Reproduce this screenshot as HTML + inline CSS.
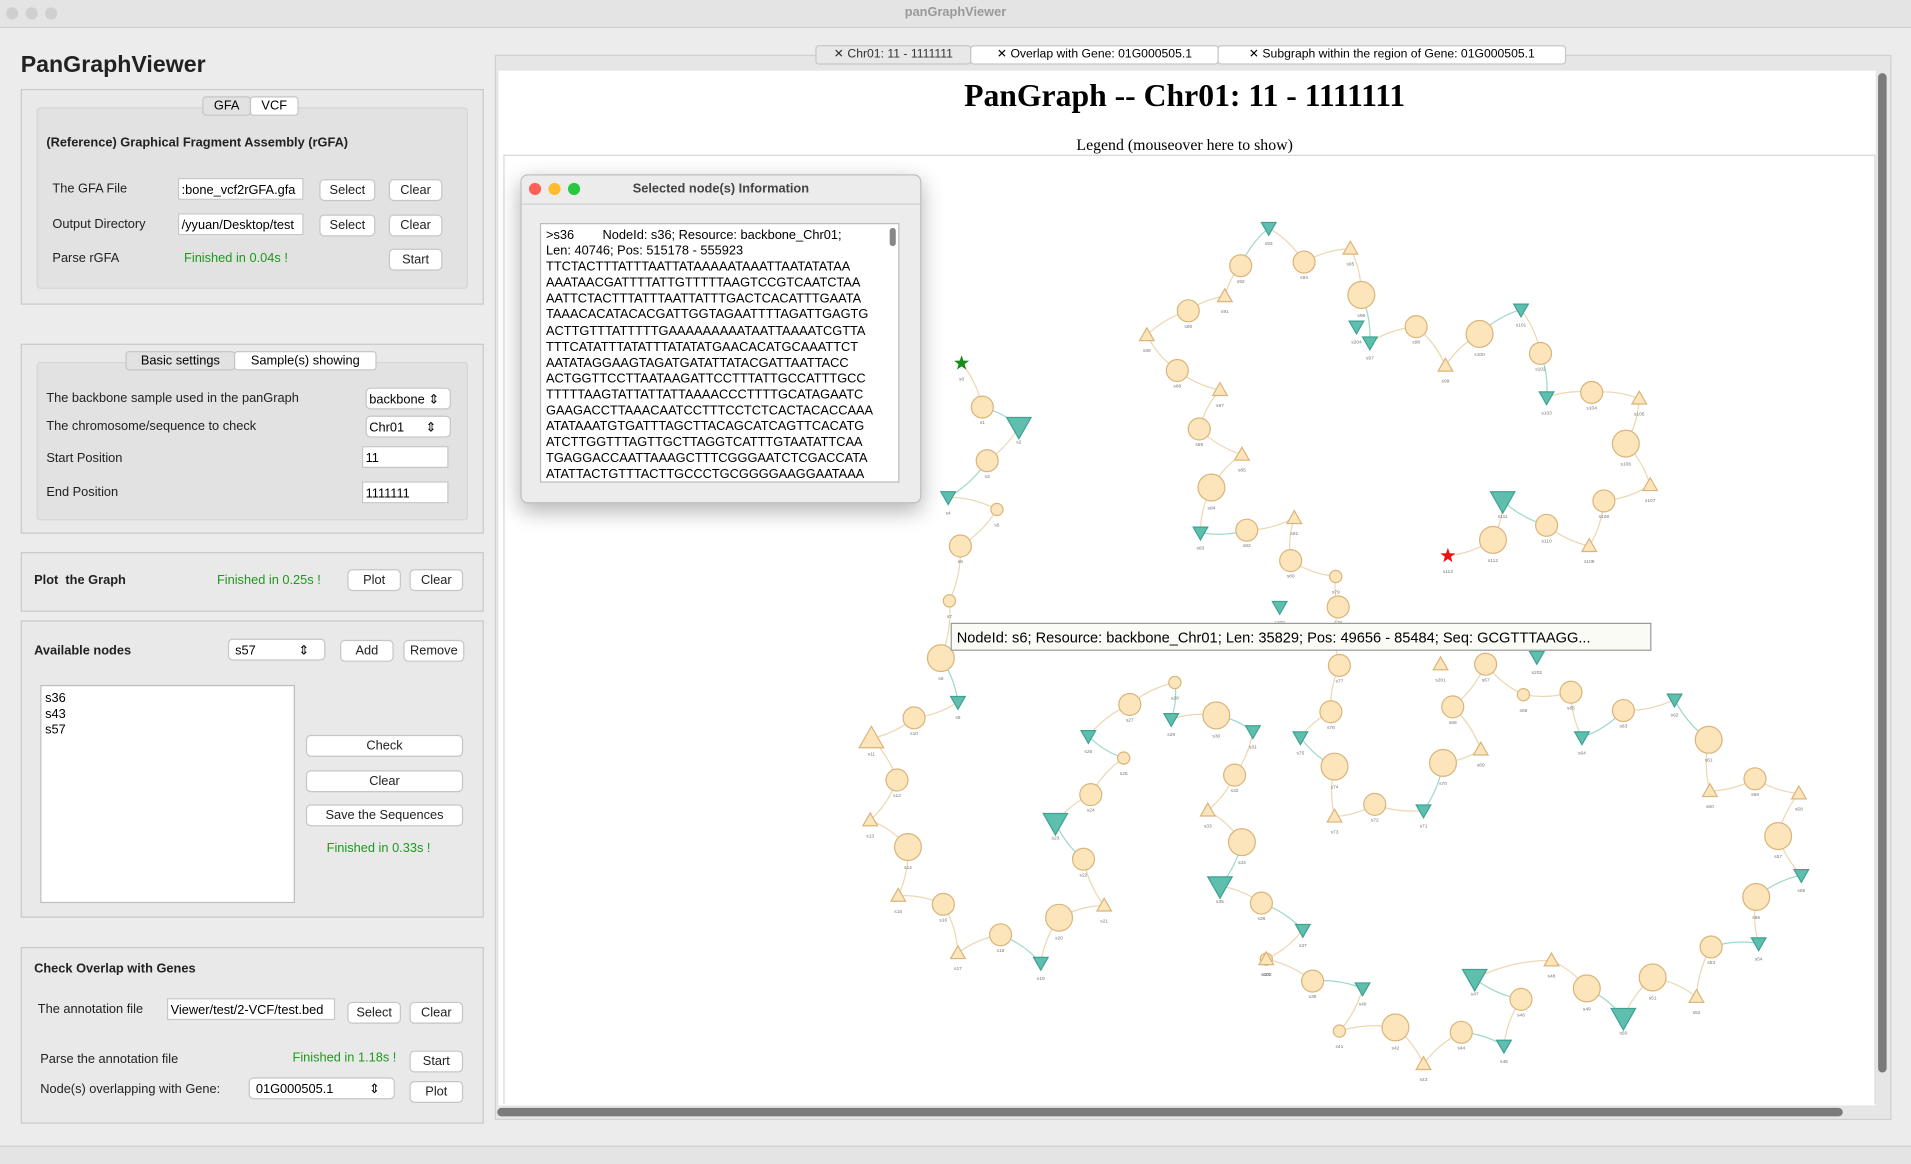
<!DOCTYPE html>
<html><head><meta charset="utf-8">
<style>
html,body{margin:0;padding:0;width:1911px;height:1163px;overflow:hidden;background:#ececec;font-family:"Liberation Sans",sans-serif;}
#wrap{position:absolute;left:0;top:0;width:1568px;height:954px;transform:scale(1.21875);transform-origin:0 0;}
.a{position:absolute;}
.grp{position:absolute;border:1px solid #c9c9c9;background:#e9e9e9;}
.inner{position:absolute;border:1px solid #d6d6d6;background:#e2e2e2;border-radius:3px;}
.lbl{position:absolute;font-size:10.5px;color:#222;white-space:nowrap;}
.btn{position:absolute;height:16px;background:#fff;border:1px solid #c6c6c6;border-radius:4px;font-size:10.5px;text-align:center;line-height:16px;color:#222;}
.inp{position:absolute;height:18px;background:#fff;border:1px solid #c6c6c6;font-size:10.5px;line-height:18px;overflow:hidden;white-space:nowrap;padding-left:2px;box-sizing:border-box;}
.green{color:#1b9a1b;}
.b{font-weight:bold;}
.tab{position:absolute;z-index:3;font-size:10.5px;height:14px;line-height:14px;text-align:center;border:1px solid #c6c6c6;border-radius:3px;}
</style></head><body>
<div id="wrap">
<div class="a" style="left:0;top:0;width:1568px;height:22px;background:#e4e4e4;border-bottom:1px solid #d0d0d0;">
  <div class="a" style="left:5px;top:6px;width:10px;height:10px;border-radius:50%;background:#cfcfcf;"></div>
  <div class="a" style="left:21px;top:6px;width:10px;height:10px;border-radius:50%;background:#cfcfcf;"></div>
  <div class="a" style="left:37px;top:6px;width:10px;height:10px;border-radius:50%;background:#cfcfcf;"></div>
  <div class="lbl" style="left:0;width:1568px;text-align:center;top:4px;color:#999;font-weight:bold;">panGraphViewer</div>
</div>
<div class="lbl b" style="left:17px;top:43px;font-size:19px;">PanGraphViewer</div>

<div class="grp" style="left:17px;top:73px;width:378px;height:175px;"></div>
<div class="inner" style="left:30px;top:88px;width:352px;height:147px;"></div>
<div class="tab" style="left:166px;top:79px;width:38px;background:#e2e2e2;">GFA</div>
<div class="tab" style="left:205px;top:79px;width:38px;background:#fff;">VCF</div>
<div class="lbl b" style="left:38px;top:111px;">(Reference) Graphical Fragment Assembly (rGFA)</div>
<div class="lbl" style="left:43px;top:149px;">The GFA File</div>
<div class="inp" style="left:146px;top:146px;width:103px;">:bone_vcf2rGFA.gfa</div>
<div class="btn" style="left:262px;top:147px;width:44px;">Select</div>
<div class="btn" style="left:319px;top:147px;width:42px;">Clear</div>
<div class="lbl" style="left:43px;top:178px;">Output Directory</div>
<div class="inp" style="left:146px;top:175px;width:103px;">/yyuan/Desktop/test</div>
<div class="btn" style="left:262px;top:176px;width:44px;">Select</div>
<div class="btn" style="left:319px;top:176px;width:42px;">Clear</div>
<div class="lbl" style="left:43px;top:206px;">Parse rGFA</div>
<div class="lbl green" style="left:151px;top:206px;">Finished in 0.04s !</div>
<div class="btn" style="left:319px;top:204px;width:42px;">Start</div>

<div class="grp" style="left:17px;top:282px;width:378px;height:154px;"></div>
<div class="inner" style="left:30px;top:297px;width:352px;height:128px;"></div>
<div class="tab" style="left:103px;top:288px;width:88px;background:#e2e2e2;">Basic settings</div>
<div class="tab" style="left:192px;top:288px;width:115px;background:#fff;">Sample(s) showing</div>
<div class="lbl" style="left:38px;top:321px;">The backbone sample used in the panGraph</div>
<div class="inp" style="left:300px;top:318px;width:70px;border-radius:4px;">backbone ⇕</div>
<div class="lbl" style="left:38px;top:344px;">The chromosome/sequence to check</div>
<div class="inp" style="left:300px;top:341px;width:70px;border-radius:4px;">Chr01 &nbsp;&nbsp;&nbsp;&nbsp;&nbsp;⇕</div>
<div class="lbl" style="left:38px;top:370px;">Start Position</div>
<div class="inp" style="left:297px;top:366px;width:71px;">11</div>
<div class="lbl" style="left:38px;top:398px;">End Position</div>
<div class="inp" style="left:297px;top:395px;width:71px;">1111111</div>

<div class="grp" style="left:17px;top:453px;width:378px;height:47px;"></div>
<div class="lbl b" style="left:28px;top:470px;">Plot &nbsp;the Graph</div>
<div class="lbl green" style="left:178px;top:470px;">Finished in 0.25s !</div>
<div class="btn" style="left:285px;top:467px;width:42px;">Plot</div>
<div class="btn" style="left:336px;top:467px;width:42px;">Clear</div>

<div class="grp" style="left:17px;top:509px;width:378px;height:242px;"></div>
<div class="lbl b" style="left:28px;top:528px;">Available nodes</div>
<div class="inp" style="left:187px;top:524px;width:80px;border-radius:4px;">&nbsp;s57 &nbsp;&nbsp;&nbsp;&nbsp;&nbsp;&nbsp;&nbsp;&nbsp;&nbsp;&nbsp;&nbsp;⇕</div>
<div class="btn" style="left:279px;top:525px;width:42px;">Add</div>
<div class="btn" style="left:331px;top:525px;width:48px;">Remove</div>
<div class="a" style="left:33px;top:562px;width:209px;height:179px;background:#fff;border:1px solid #bdbdbd;font-size:10.5px;line-height:13px;padding:4px 3px;box-sizing:border-box;">s36<br>s43<br>s57</div>
<div class="btn" style="left:251px;top:603px;width:127px;">Check</div>
<div class="btn" style="left:251px;top:632px;width:127px;">Clear</div>
<div class="btn" style="left:251px;top:660px;width:127px;">Save the Sequences</div>
<div class="lbl green" style="left:268px;top:690px;">Finished in 0.33s !</div>

<div class="grp" style="left:17px;top:777px;width:378px;height:143px;"></div>
<div class="lbl b" style="left:28px;top:789px;">Check Overlap with Genes</div>
<div class="lbl" style="left:31px;top:822px;">The annotation file</div>
<div class="inp" style="left:137px;top:819px;width:138px;">Viewer/test/2-VCF/test.bed</div>
<div class="btn" style="left:285px;top:822px;width:42px;">Select</div>
<div class="btn" style="left:336px;top:822px;width:42px;">Clear</div>
<div class="lbl" style="left:33px;top:863px;">Parse the annotation file</div>
<div class="lbl green" style="left:240px;top:862px;">Finished in 1.18s !</div>
<div class="btn" style="left:336px;top:862px;width:42px;">Start</div>
<div class="lbl" style="left:33px;top:888px;">Node(s) overlapping with Gene:</div>
<div class="inp" style="left:204px;top:884px;width:120px;border-radius:4px;">&nbsp;01G000505.1 &nbsp;&nbsp;&nbsp;&nbsp;&nbsp;&nbsp;&nbsp;&nbsp;&nbsp;⇕</div>
<div class="btn" style="left:336px;top:887px;width:42px;">Plot</div>

<div class="a" style="left:406px;top:45px;width:1144px;height:872px;background:#e6e6e6;border:1px solid #d0d0d0;"></div>
<div class="tab" style="left:669px;top:37px;width:126px;background:#e8e8e8;color:#333;font-size:10px;">✕ Chr01: 11 - 1111111</div>
<div class="tab" style="left:796px;top:37px;width:202px;background:#fff;font-size:10px;">✕ Overlap with Gene: 01G000505.1</div>
<div class="tab" style="left:999px;top:37px;width:284px;background:#fff;font-size:10px;">✕ Subgraph within the region of Gene: 01G000505.1</div>
<div class="a" style="left:409px;top:58px;width:1130px;height:849px;background:#fff;"></div>
<div class="a" style="left:409px;top:64px;width:1126px;text-align:center;font-family:'Liberation Serif',serif;font-weight:bold;font-size:26px;">PanGraph -- Chr01: 11 - 1111111</div>
<div class="a" style="left:409px;top:111px;width:1126px;text-align:center;font-family:'Liberation Serif',serif;font-size:13px;">Legend (mouseover here to show)</div>
<div class="a" style="left:413px;top:127px;width:1124px;height:778px;border:1px solid #d8d8d8;border-bottom:none;"></div>
<div class="a" style="left:1541px;top:60px;width:7px;height:820px;border-radius:4px;background:#7a7a7a;"></div>
<div class="a" style="left:408px;top:909px;width:1104px;height:7px;border-radius:4px;background:#7a7a7a;"></div>

<svg class="a" style="left:0;top:0;" width="1568" height="954" id="g"></svg>

<div class="a" style="left:427px;top:143px;width:327px;height:268px;background:#ececec;border:1px solid #c0c0c0;border-radius:6px;box-shadow:0 6px 18px rgba(0,0,0,0.3);">
  <div class="a" style="left:6px;top:6px;width:10px;height:10px;border-radius:50%;background:#fe5f57;"></div>
  <div class="a" style="left:22px;top:6px;width:10px;height:10px;border-radius:50%;background:#febc2e;"></div>
  <div class="a" style="left:38px;top:6px;width:10px;height:10px;border-radius:50%;background:#28c840;"></div>
  <div class="lbl b" style="left:0;width:327px;text-align:center;top:5px;color:#444;">Selected node(s) Information</div>
  <div class="a" style="left:0;top:23px;width:327px;height:1px;background:#d0d0d0;"></div>
  <div class="a" style="left:15px;top:39px;width:295px;height:213px;background:#fff;border:1px solid #bbb;overflow:hidden;font-size:10.5px;line-height:13.1px;padding:3px 4px;box-sizing:border-box;font-family:'Liberation Sans',sans-serif;white-space:pre;">&gt;s36        NodeId: s36; Resource: backbone_Chr01;
Len: 40746; Pos: 515178 - 555923
TTCTACTTTATTTAATTATAAAAATAAATTAATATATAA
AAATAACGATTTTATTGTTTTTAAGTCCGTCAATCTAA
AATTCTACTTTATTTAATTATTTGACTCACATTTGAATA
TAAACACATACACGATTGGTAGAATTTTAGATTGAGTG
ACTTGTTTATTTTTGAAAAAAAAATAATTAAAATCGTTA
TTTCATATTTATATTTATATATGAACACATGCAAATTCT
AATATAGGAAGTAGATGATATTATACGATTAATTACC
ACTGGTTCCTTAATAAGATTCCTTTATTGCCATTTGCC
TTTTTAAGTATTATTATTAAAACCCTTTTGCATAGAATC
GAAGACCTTAAACAATCCTTTCCTCTCACTACACCAAA
ATATAAATGTGATTTAGCTTACAGCATCAGTTCACATG
ATCTTGGTTTAGTTGCTTAGGTCATTTGTAATATTCAA
TGAGGACCAATTAAAGCTTTCGGGAATCTCGACCATA
ATATTACTGTTTACTTGCCCTGCGGGGAAGGAATAAA</div>
  <div class="a" style="left:302px;top:43px;width:5px;height:15px;border-radius:3px;background:#888;"></div>
</div>

<div class="a" style="left:780px;top:511px;width:575px;height:23px;background:#fbfbf6;border:1px solid #9a9a9a;font-size:12px;line-height:23px;padding-left:4px;box-sizing:border-box;white-space:nowrap;">NodeId: s6; Resource: backbone_Chr01; Len: 35829; Pos: 49656 - 85484; Seq: GCGTTTAAGG...</div>

<div class="a" style="left:0;top:940px;width:1568px;height:14px;background:#e4e4e4;border-top:1px solid #cfcfcf;"></div>
</div>

<script>
const nodeX=[789,806,836,810,778,818,788,779,772,786,750,715,736,714,745,737,774,786,821,854,869,906,889,866,895,922,893,927,964,961,998,1028,1013,991,1019,1001,1035,1069,1039,1077,1118,1099,1145,1168,1199,1234,1248,1210,1273,1302,1332,1356,1392,1404,1443,1441,1478,1459,1476,1440,1403,1402,1374,1332,1298,1289,1250,1219,1192,1215,1184,1168,1128,1095,1095,1067,1092,1099,1098,1096,1059,1062,1023,985,994,1019,984,1001,966,941,975,1005,1018,1041,1070,1108,1117,1124,1162,1186,1214,1248,1264,1269,1306,1345,1334,1354,1316,1304,1269,1233,1225,1188];
const nodeY=[298,334,350,378,408,418,448,493,540,576,589,606,640,673,695,735,742,782,767,790,753,743,705,675,652,622,604,578,560,590,587,600,636,665,691,727,741,763,787,805,811,846,843,873,847,858,820,803,788,811,835,802,818,777,774,736,718,686,651,639,649,607,574,583,605,568,570,545,580,615,626,665,660,670,629,605,584,546,498,473,460,425,435,437,400,373,352,320,304,275,255,243,218,187,215,204,242,281,268,300,274,254,290,326,322,327,364,398,411,448,431,411,443,456];
const nodeType=['g','m','D','m','d','s','m','s','c','d','m','U','m','u','c','u','m','u','m','d','c','u','m','D','m','s','d','m','s','d','c','d','m','u','c','D','m','d','s','m','d','s','c','u','m','d','m','D','u','c','D','c','u','m','d','c','d','c','u','m','u','c','d','m','d','m','s','m','m','u','c','d','m','u','c','d','m','m','m','s','m','u','m','d','c','u','m','u','m','u','m','u','m','d','m','u','c','d','m','u','c','d','m','d','m','u','c','u','m','u','m','D','c','r'];
const extraX=[1050,1182,1261,1039,1113];
const extraY=[498,545,539,787,268];
const extraType=['d','u','d','u','d'];

const NS='http://www.w3.org/2000/svg';
const svg=document.getElementById('g');
const tan='#d9b57a',fill='#fde5bb',teal='#5ebfae',tealS='#3fa291';
function mk(t,a){const e=document.createElementNS(NS,t);for(const k in a)e.setAttribute(k,a[k]);svg.appendChild(e);return e;}
function isTeal(t){return t==='d'||t==='D';}
for(let i=0;i<nodeX.length-1;i++){
  const x1=nodeX[i],y1=nodeY[i],x2=nodeX[i+1],y2=nodeY[i+1];
  const mx=(x1+x2)/2+(y2-y1)*0.12,my=(y1+y2)/2-(x2-x1)*0.12;
  const p=mk('path',{d:`M${x1},${y1} Q${mx},${my} ${x2},${y2}`,fill:'none',stroke:isTeal(nodeType[i+1])?'#9ed8cd':'#ecd7b3','stroke-width':1});
  
  
}
function drawNode(x,y,t,label){
  let e;
  if(t==='c'||t==='m'||t==='s'){
    const r=t==='c'?11:(t==='m'?9:5);
    e=mk('circle',{cx:x,cy:y,r:r,fill:fill,stroke:tan,'stroke-width':1});
  }else if(t==='u'||t==='U'){
    const s=t==='U'?10:6;
    e=mk('polygon',{points:`${x},${y-s} ${x-s},${y+s*0.75} ${x+s},${y+s*0.75}`,fill:fill,stroke:tan,'stroke-width':1});
  }else if(t==='d'||t==='D'){
    const s=t==='D'?10:6;
    e=mk('polygon',{points:`${x-s},${y-s*0.75} ${x+s},${y-s*0.75} ${x},${y+s}`,fill:teal,stroke:tealS,'stroke-width':1});
  }else{
    const col=t==='g'?'#1a8a1a':'#ee1111';let pts=[];
    for(let k=0;k<10;k++){const r=k%2?2.6:6.5,a=-Math.PI/2+k*Math.PI/5;pts.push((x+r*Math.cos(a)).toFixed(1)+','+(y+r*Math.sin(a)).toFixed(1));}
    e=mk('polygon',{points:pts.join(' '),fill:col});
  }
  
  
  const tx=mk('text',{x:x,y:y+(t==='c'?18:14),'font-size':4,'text-anchor':'middle',fill:'#777','font-family':'Liberation Sans, sans-serif'});
  tx.textContent=label;
  
  
}
for(let i=0;i<nodeX.length;i++) drawNode(nodeX[i],nodeY[i],nodeType[i],'s'+i);
for(let i=0;i<extraX.length;i++) drawNode(extraX[i],extraY[i],extraType[i],'s'+(200+i));
</script>
</body></html>
